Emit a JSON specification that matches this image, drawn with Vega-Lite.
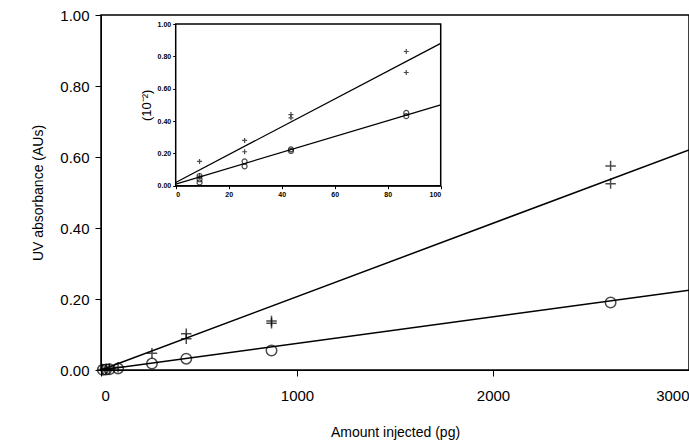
{
  "$schema": "https://vega.github.io/schema/vega-lite/v6.json",
  "autosize": "none",
  "padding": {"left": 101, "top": 15, "right": 0, "bottom": 77},
  "width": 588,
  "height": 355,
  "background": "white",
  "config": {
    "view": {"stroke": "black", "strokeWidth": 1.5},
    "font": "Liberation Sans",
    "axis": {"grid": false, "domainColor": "black", "tickColor": "black", "labelColor": "black", "titleColor": "black", "titleFontWeight": "normal"}
  },
  "datasets": {
    "main": [
      {"x": 2600, "y": 0.575, "s": "plus"}, {"x": 2600, "y": 0.525, "s": "plus"},
      {"x": 870, "y": 0.138, "s": "plus"}, {"x": 870, "y": 0.132, "s": "plus"},
      {"x": 435, "y": 0.102, "s": "plus"}, {"x": 435, "y": 0.088, "s": "plus"},
      {"x": 260, "y": 0.047, "s": "plus"},
      {"x": 87, "y": 0.008, "s": "plus"}, {"x": 43, "y": 0.004, "s": "plus"}, {"x": 26, "y": 0.003, "s": "plus"}, {"x": 9, "y": 0.0015, "s": "plus"},
      {"x": 2600, "y": 0.19, "s": "circle"}, {"x": 870, "y": 0.055, "s": "circle"},
      {"x": 435, "y": 0.032, "s": "circle"}, {"x": 260, "y": 0.018, "s": "circle"},
      {"x": 87, "y": 0.0045, "s": "circle"}, {"x": 43, "y": 0.0022, "s": "circle"},
      {"x": 26, "y": 0.0014, "s": "circle"}, {"x": 9, "y": 0.0005, "s": "circle"}
    ],
    "mainLines": [
      {"x": 0, "y": 0, "series": "a"}, {"x": 3000, "y": 0.62, "series": "a"},
      {"x": 0, "y": 0, "series": "b"}, {"x": 3000, "y": 0.225, "series": "b"}
    ],
    "inset": [
      {"x": 9, "y": 0.15, "s": "plus"}, {"x": 9, "y": 0.06, "s": "plus"},
      {"x": 26, "y": 0.28, "s": "plus"}, {"x": 26, "y": 0.21, "s": "plus"},
      {"x": 43.5, "y": 0.44, "s": "plus"}, {"x": 43.5, "y": 0.42, "s": "plus"},
      {"x": 87, "y": 0.83, "s": "plus"}, {"x": 87, "y": 0.70, "s": "plus"},
      {"x": 9, "y": 0.06, "s": "circle"}, {"x": 9, "y": 0.04, "s": "circle"}, {"x": 9, "y": 0.02, "s": "circle"},
      {"x": 26, "y": 0.15, "s": "circle"}, {"x": 26, "y": 0.12, "s": "circle"},
      {"x": 43.5, "y": 0.225, "s": "circle"}, {"x": 43.5, "y": 0.215, "s": "circle"},
      {"x": 87, "y": 0.45, "s": "circle"}, {"x": 87, "y": 0.43, "s": "circle"}
    ],
    "insetLines": [
      {"x": 0, "y": 0.02, "series": "a"}, {"x": 100, "y": 0.88, "series": "a"},
      {"x": 0, "y": 0.01, "series": "b"}, {"x": 100, "y": 0.50, "series": "b"}
    ],
    "insetBox": [{"x0": 0, "x1": 100, "y0": 0, "y1": 1}]
  },
  "layer": [
    {
      "layer": [
        {
          "data": {"name": "mainLines"},
          "mark": {"type": "line", "color": "black", "strokeWidth": 1.5},
          "encoding": {
            "x": {"field": "x", "type": "quantitative"},
            "y": {"field": "y", "type": "quantitative"},
            "detail": {"field": "series"}
          }
        },
        {
          "data": {"name": "main"},
          "mark": {"type": "point", "filled": false, "color": "black", "strokeWidth": 1.5},
          "encoding": {
            "x": {"field": "x", "type": "quantitative", "scale": {"domain": [0, 3000], "nice": false},
              "axis": {"values": [0, 1000, 2000, 3000], "format": "d", "labelFontSize": 15, "labelPadding": 12, "tickSize": 6, "title": "Amount injected (pg)", "titleFontSize": 14, "titlePadding": 22}},
            "y": {"field": "y", "type": "quantitative", "scale": {"domain": [0, 1], "nice": false},
              "axis": {"values": [0, 0.2, 0.4, 0.6, 0.8, 1], "format": ".2f", "labelFontSize": 15, "labelPadding": 6, "tickSize": 6, "title": "UV absorbance (AUs)", "titleFontSize": 14, "titlePadding": 14}},
            "shape": {"field": "s", "type": "nominal", "legend": null,
              "scale": {"domain": ["plus", "circle"], "range": ["M-1,0H1M0,-1V1", "circle"]}},
            "size": {"value": 110}
          }
        }
      ]
    },
    {
      "layer": [
        {
          "data": {"name": "insetBox"},
          "mark": {"type": "rect", "fill": "white", "stroke": "black", "strokeWidth": 1.5},
          "encoding": {
            "x": {"field": "x0", "type": "quantitative", "scale": {"domain": [0, 100], "nice": false, "range": [74.7, 339.7]},
              "axis": {"orient": "bottom", "offset": -184.3, "values": [0, 20, 40, 60, 80, 100], "labelFontSize": 7, "labelFontWeight": "bold", "tickSize": 3, "title": null}},
            "x2": {"field": "x1"},
            "y": {"field": "y0", "type": "quantitative", "scale": {"domain": [0, 1], "nice": false, "range": [170.7, 9]},
              "axis": {"orient": "left", "offset": -74.7, "values": [0, 0.2, 0.4, 0.6, 0.8, 1], "format": ".2f", "labelFontSize": 7, "labelFontWeight": "bold", "tickSize": 3, "title": "(10⁻²)", "titleFontSize": 13, "titlePadding": 4}},
            "y2": {"field": "y1"}
          }
        },
        {
          "data": {"name": "insetLines"},
          "mark": {"type": "line", "color": "black", "strokeWidth": 1.3},
          "encoding": {
            "x": {"field": "x", "type": "quantitative"},
            "y": {"field": "y", "type": "quantitative"},
            "detail": {"field": "series"}
          }
        },
        {
          "data": {"name": "inset"},
          "mark": {"type": "point", "filled": false, "color": "black", "strokeWidth": 1.2},
          "encoding": {
            "x": {"field": "x", "type": "quantitative"},
            "y": {"field": "y", "type": "quantitative"},
            "shape": {"field": "s", "type": "nominal", "legend": null,
              "scale": {"domain": ["plus", "circle"], "range": ["M-1,0H1M0,-1V1", "circle"]}},
            "size": {"value": 25}
          }
        }
      ]
    }
  ],
  "resolve": {"scale": {"x": "independent", "y": "independent", "shape": "independent"}, "axis": {"x": "independent", "y": "independent"}}
}
